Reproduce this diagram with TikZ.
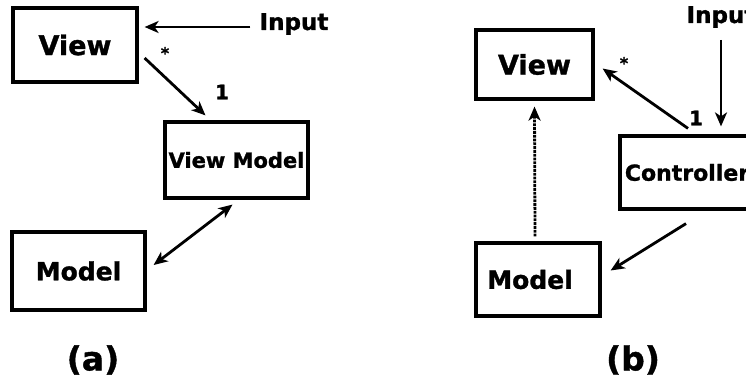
\documentclass[tikz,border=0pt]{standalone}
\usepackage{fontspec}
\setmainfont{DejaVu Sans}[BoldFeatures={FakeBold=1.2}]
\usepackage{tikz}
\usetikzlibrary{positioning}
\usetikzlibrary{arrows.meta, calc}

\begin{document}
\begin{tikzpicture}[x=1pt, y=-1pt]
\tikzstyle{box} = [rectangle, draw, line width=3.2pt, inner sep=0pt, font=\bfseries]
\tikzstyle{arrow} = [line width=2.8pt,->,>={Stealth[length=14pt,width=12pt,inset=4pt]}]
\tikzstyle{darrow} = [line width=2.8pt,<->,>={Stealth[length=14pt,width=12pt,inset=4pt]}]
\tikzstyle{lbl} = [inner sep=2pt, font=\bfseries]

\useasboundingbox (0,0) rectangle (746,380);
\clip (0,0) rectangle (746,380);

% (a)
\node (viewA) [box, minimum width=124pt, minimum height=74pt, font=\bfseries\fontsize{27}{30}\selectfont] at (75,45) {View};
\node (vmA) [box, minimum width=143pt, minimum height=76pt, font=\bfseries\fontsize{21}{24}\selectfont] at (236.5,160) {View Model};
\node (modelA) [box, minimum width=133pt, minimum height=78pt, font=\bfseries\fontsize{25}{28}\selectfont] at (78.5,271) {Model};
\node (inputA) [lbl, font=\bfseries\fontsize{23}{26}\selectfont] at (294,24) {Input};
\node (starA) [lbl, font=\bfseries\fontsize{16}{18}\selectfont] at (165,53) {*};
\node (oneA) [lbl, font=\bfseries\fontsize{20}{22}\selectfont] at (222,92) {1};
\node (capA) [font=\bfseries\fontsize{33}{36}\selectfont] at (93,360) {(a)};

\draw [arrow] ($(inputA.west)+(-7,3)$) -- ($(inputA.west -| viewA.east)+(6,3)$);
\draw [arrow] ($(viewA.east)+(6,13)$) -- ($(vmA.north)+(-31,-5)$);
\draw [darrow] ($(modelA.east)+(7,-6)$) -- ($(vmA.south)+(-4,5)$);

% (b)
\node (viewB) [box, minimum width=117pt, minimum height=69pt, font=\bfseries\fontsize{27}{30}\selectfont] at (534.5,64.5) {View};
\node (ctrlB) [box, minimum width=134pt, minimum height=73pt, font=\bfseries\fontsize{22}{25}\selectfont] at (687,172.5) {Controller};
\node (modelB) [box, minimum width=124pt, minimum height=73pt, font=\bfseries\fontsize{25}{28}\selectfont] at (538,279.5) {\hspace*{-16pt}Model};
\node (inputB) [lbl, font=\bfseries\fontsize{23}{26}\selectfont] at (721,17) {Input};
\node (starB) [lbl, font=\bfseries\fontsize{16}{18}\selectfont] at (624,63) {*};
\node (oneB) [lbl, font=\bfseries\fontsize{20}{22}\selectfont] at (696,118) {1};
\node (capB) [font=\bfseries\fontsize{33}{36}\selectfont] at (633,360) {(b)};

\draw [arrow] ($(inputB.south)+(0,10)$) -- ($(inputB.south |- ctrlB.north)+(0,-8)$);
\draw [arrow] ($(ctrlB.north)+(1,-6)$) -- ($(viewB.east)+(8,4)$);
\draw [arrow] ($(ctrlB.south)+(-1,13)$) -- ($(modelB.east)+(9,-9)$);
\draw [arrow, densely dotted] ($(modelB.north)+(-3,-5)$) -- ($(viewB.south)+(0,6)$);
\end{tikzpicture}
\end{document}
